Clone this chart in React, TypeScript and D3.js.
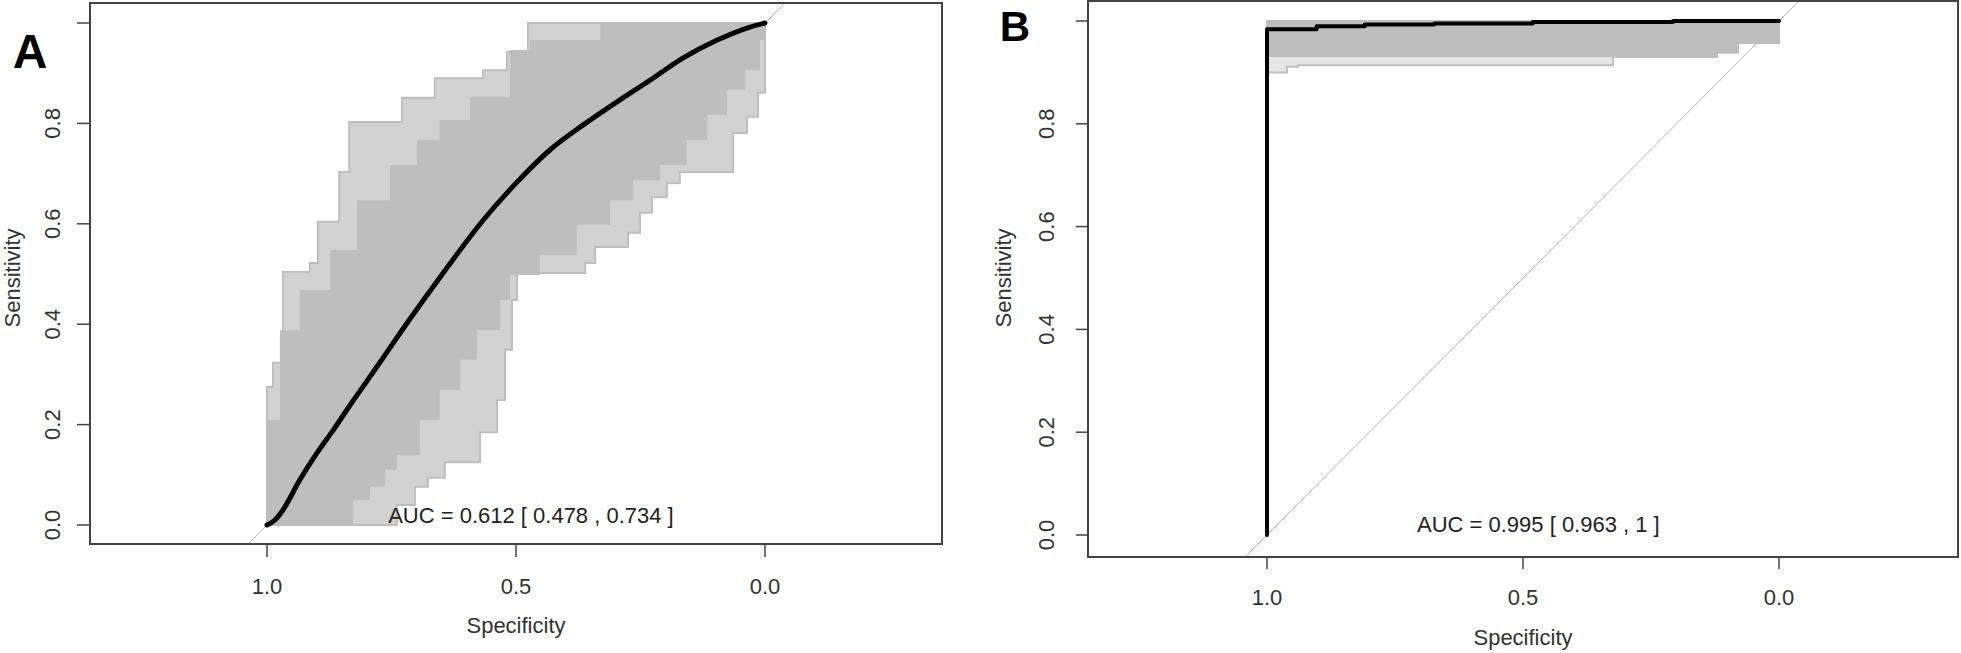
import * as d3 from "d3";

// ---- panel A: bootstrapped ROC curves (band) + mean curve ----
// specificity / sensitivity pairs
const meanASpec = [1.0, 0.984, 0.968, 0.934, 0.9, 0.867, 0.833, 0.799, 0.767, 0.733, 0.677, 0.633, 0.566, 0.498, 0.432, 0.365, 0.297, 0.231, 0.165, 0.096, 0.03, 0.0];
const meanASens = [0.0, 0.01, 0.03, 0.09, 0.143, 0.189, 0.239, 0.287, 0.333, 0.382, 0.46, 0.52, 0.607, 0.683, 0.747, 0.797, 0.843, 0.886, 0.93, 0.966, 0.992, 1.0];

// outermost staircase on the upper-left side of the band
const bandAUpperOuterSpec = [1, 0.988, 0.968, 0.914, 0.898, 0.855, 0.835, 0.729, 0.663, 0.566, 0.518, 0.476, 0];
const bandAUpperOuterSens = [0, 0.275, 0.323, 0.504, 0.522, 0.604, 0.703, 0.803, 0.851, 0.89, 0.906, 0.942, 1.0];
// where the dense grey starts on the upper-left side
const bandAUpperInnerSpec = [1, 0.974, 0.934, 0.873, 0.819, 0.753, 0.699, 0.653, 0.592, 0.512, 0.472, 0.331, 0];
const bandAUpperInnerSens = [0, 0.209, 0.388, 0.468, 0.548, 0.647, 0.717, 0.767, 0.807, 0.853, 0.946, 0.966, 1.0];
// outermost staircase on the lower-right side
const bandALowerOuterSpec = [1, 0.739, 0.703, 0.677, 0.643, 0.572, 0.538, 0.522, 0.508, 0.498, 0.361, 0.341, 0.275, 0.251, 0.227, 0.197, 0.171, 0.064, 0.036, 0.014, 0];
const bandALowerOuterSens = [0, 0.04, 0.076, 0.094, 0.125, 0.185, 0.249, 0.349, 0.448, 0.502, 0.522, 0.554, 0.582, 0.622, 0.653, 0.681, 0.703, 0.781, 0.813, 0.861, 1.0];
// where the dense grey ends on the lower-right side
const bandALowerInnerSpec = [1, 0.827, 0.793, 0.763, 0.739, 0.693, 0.653, 0.612, 0.578, 0.532, 0.512, 0.452, 0.378, 0.311, 0.265, 0.211, 0.157, 0.116, 0.076, 0.04, 0.01, 0];
const bandALowerInnerSens = [0, 0.05, 0.076, 0.11, 0.139, 0.209, 0.269, 0.329, 0.388, 0.448, 0.498, 0.538, 0.598, 0.647, 0.687, 0.717, 0.767, 0.817, 0.867, 0.906, 0.966, 1.0];

// ---- panel B ----
const meanBSpec = [1, 0.903, 0.809, 0.673, 0.481, 0.207, 0];
const meanBSens = [0, 0.984, 0.99, 0.993, 0.995, 0.998, 1.0];

const bandBUpperOuterSpec = [1, 0];
const bandBUpperOuterSens = [0.9, 1.0];
const bandBUpperInnerSpec = [1, 0];
const bandBUpperInnerSens = [0.93, 1.0];
const bandBLowerOuterSpec = [1, 0.961, 0.94, 0.324, 0.121, 0.08, 0];
const bandBLowerOuterSens = [0.9, 0.911, 0.914, 0.93, 0.938, 0.957, 1.0];
const bandBLowerInnerSpec = [1, 0.121, 0.08, 0];
const bandBLowerInnerSens = [0.93, 0.938, 0.957, 1.0];

// axes
const xTicks = [1, 0.5, 0];
const xTickLabels = ["1.0", "0.5", "0.0"];
const yTicks = [0, 0.2, 0.4, 0.6, 0.8, 1.0];
const yTickLabels = ["0.0", "0.2", "0.4", "0.6", "0.8", ""];
const chanceSpec = [1.5, -0.5];
const chanceSens = [-0.5, 1.5];

const aucTextA = "AUC = 0.612 [ 0.478 , 0.734 ]";
const aucTextB = "AUC = 0.995 [ 0.963 , 1 ]";

const FONT = "'Liberation Sans', Arial, Helvetica, sans-serif";
const GREY = "#bebebe";

const zip = (a: number[], b: number[]) => a.map((v, i) => [v, b[i]]);

// vertical move first, then horizontal
function stepBefore(pts: number[][]) {
  const out: number[][] = [pts[0]];
  for (let i = 1; i < pts.length; i++) {
    out.push([pts[i - 1][0], pts[i][1]]);
    out.push(pts[i]);
  }
  return out;
}

// horizontal move first, then vertical
function stepAfter(pts: number[][]) {
  const out: number[][] = [pts[0]];
  for (let i = 1; i < pts.length; i++) {
    out.push([pts[i][0], pts[i - 1][1]]);
    out.push(pts[i]);
  }
  return out;
}

function Panel({ p }: { p: any }) {
  const x = d3.scaleLinear().domain([1, 0]).range(p.xRange);
  const y = d3.scaleLinear().domain([0, 1]).range(p.yRange);
  const line = d3
    .line<number[]>()
    .x((d) => x(d[0]))
    .y((d) => y(d[1]));
  const smooth = d3
    .line<number[]>()
    .x((d) => x(d[0]))
    .y((d) => y(d[1]))
    .curve(d3.curveMonotoneX);

  const upOuter = stepBefore(zip(p.upOuterSpec, p.upOuterSens));
  const upInner = stepBefore(zip(p.upInnerSpec, p.upInnerSens));
  const loOuter = stepAfter(zip(p.loOuterSpec, p.loOuterSens));
  const loInner = stepAfter(zip(p.loInnerSpec, p.loInnerSens));
  const outerPoly = upOuter.concat(loOuter.slice().reverse());
  const innerPoly = upInner.concat(loInner.slice().reverse());

  const mean = zip(p.meanSpec, p.meanSens);
  const meanPath = p.stepMean ? line(stepBefore(mean)) : smooth(mean);
  const b = p.box;
  const clipId = "clip-" + p.label;

  return (
    <g>
      <defs>
        <clipPath id={clipId}>
          <rect x={b.left} y={b.top} width={b.right - b.left} height={b.bottom - b.top} />
        </clipPath>
      </defs>

      <g clipPath={`url(#${clipId})`}>
        {/* chance diagonal */}
        <path d={line(zip(chanceSpec, chanceSens)) || ""} stroke="#b4b4b4" strokeWidth={1} fill="none" />
        {/* bootstrap band */}
        <path d={(line(outerPoly) || "") + "Z"} fill={p.outerFill} stroke="none" />
        <path d={(line(innerPoly) || "") + "Z"} fill={GREY} stroke="none" />
        <path d={line(upOuter) || ""} fill="none" stroke={GREY} strokeWidth={2} />
        <path d={line(loOuter) || ""} fill="none" stroke={GREY} strokeWidth={2} />
        {/* mean ROC */}
        <path d={meanPath || ""} fill="none" stroke="#000" strokeWidth={p.meanWidth} strokeLinejoin="round" strokeLinecap="round" />
      </g>

      <text x={x(0.47)} y={y(0.02)} dy="0.35em" textAnchor="middle" fontFamily={FONT} fontSize={22} fill="#222">
        {p.aucText}
      </text>

      {/* box */}
      <rect x={b.left} y={b.top} width={b.right - b.left} height={b.bottom - b.top} fill="none" stroke="#444" strokeWidth={2} />

      {/* x axis */}
      {xTicks.map((t, i) => (
        <g key={"x" + i}>
          <line x1={x(t)} x2={x(t)} y1={b.bottom} y2={b.bottom + p.tickLen} stroke="#444" strokeWidth={1.5} />
          <text x={x(t)} y={p.xTickLabelY} textAnchor="middle" fontFamily={FONT} fontSize={22} fill="#333">
            {xTickLabels[i]}
          </text>
        </g>
      ))}
      <text x={x(0.5)} y={p.xLabelY} textAnchor="middle" fontFamily={FONT} fontSize={22} fill="#333">
        Specificity
      </text>

      {/* y axis */}
      {yTicks.map((t, i) => (
        <g key={"y" + i}>
          <line x1={b.left - p.tickLen} x2={b.left} y1={y(t)} y2={y(t)} stroke="#444" strokeWidth={1.5} />
          <text
            transform={`translate(${p.yTickLabelX},${y(t)}) rotate(-90)`}
            textAnchor="middle"
            dy="0.35em"
            fontFamily={FONT}
            fontSize={22}
            fill="#333"
          >
            {yTickLabels[i]}
          </text>
        </g>
      ))}
      <text
        transform={`translate(${p.yLabelX},${p.yLabelY}) rotate(-90)`}
        textAnchor="middle"
        dy="0.35em"
        fontFamily={FONT}
        fontSize={22}
        fill="#333"
      >
        Sensitivity
      </text>

      <text x={p.letterX} y={p.letterY} textAnchor="middle" fontFamily={FONT} fontWeight="bold" fontSize={p.letterSize} fill="#000">
        {p.label}
      </text>
    </g>
  );
}

const panelA = {
  label: "A",
  xRange: [267, 765],
  yRange: [525, 23],
  box: { left: 90, right: 942, top: 3, bottom: 544 },
  tickLen: 13,
  xTickLabelY: 594,
  xLabelY: 633,
  yTickLabelX: 52,
  yLabelX: 12,
  yLabelY: 278,
  letterX: 30,
  letterY: 68,
  letterSize: 48,
  meanSpec: meanASpec,
  meanSens: meanASens,
  stepMean: false,
  meanWidth: 5,
  outerFill: "#d2d2d2",
  upOuterSpec: bandAUpperOuterSpec,
  upOuterSens: bandAUpperOuterSens,
  upInnerSpec: bandAUpperInnerSpec,
  upInnerSens: bandAUpperInnerSens,
  loOuterSpec: bandALowerOuterSpec,
  loOuterSens: bandALowerOuterSens,
  loInnerSpec: bandALowerInnerSpec,
  loInnerSens: bandALowerInnerSens,
  aucText: aucTextA,
};

const panelB = {
  label: "B",
  xRange: [1267, 1779],
  yRange: [535, 21],
  box: { left: 1088, right: 1958, top: 1, bottom: 557 },
  tickLen: 12,
  xTickLabelY: 605,
  xLabelY: 645,
  yTickLabelX: 1046,
  yLabelX: 1003,
  yLabelY: 278,
  letterX: 1015,
  letterY: 41,
  letterSize: 42,
  meanSpec: meanBSpec,
  meanSens: meanBSens,
  stepMean: true,
  meanWidth: 4,
  outerFill: "#e6e6e6",
  upOuterSpec: bandBUpperOuterSpec,
  upOuterSens: bandBUpperOuterSens,
  upInnerSpec: bandBUpperInnerSpec,
  upInnerSens: bandBUpperInnerSens,
  loOuterSpec: bandBLowerOuterSpec,
  loOuterSens: bandBLowerOuterSens,
  loInnerSpec: bandBLowerInnerSpec,
  loInnerSens: bandBLowerInnerSens,
  aucText: aucTextB,
};

export default function App() {
  return (
    <svg
      width={1961}
      height={653}
      style={{ position: "absolute", left: 0, top: 0, background: "#fff" }}
    >
      <Panel p={panelA} />
      <Panel p={panelB} />
    </svg>
  );
}
